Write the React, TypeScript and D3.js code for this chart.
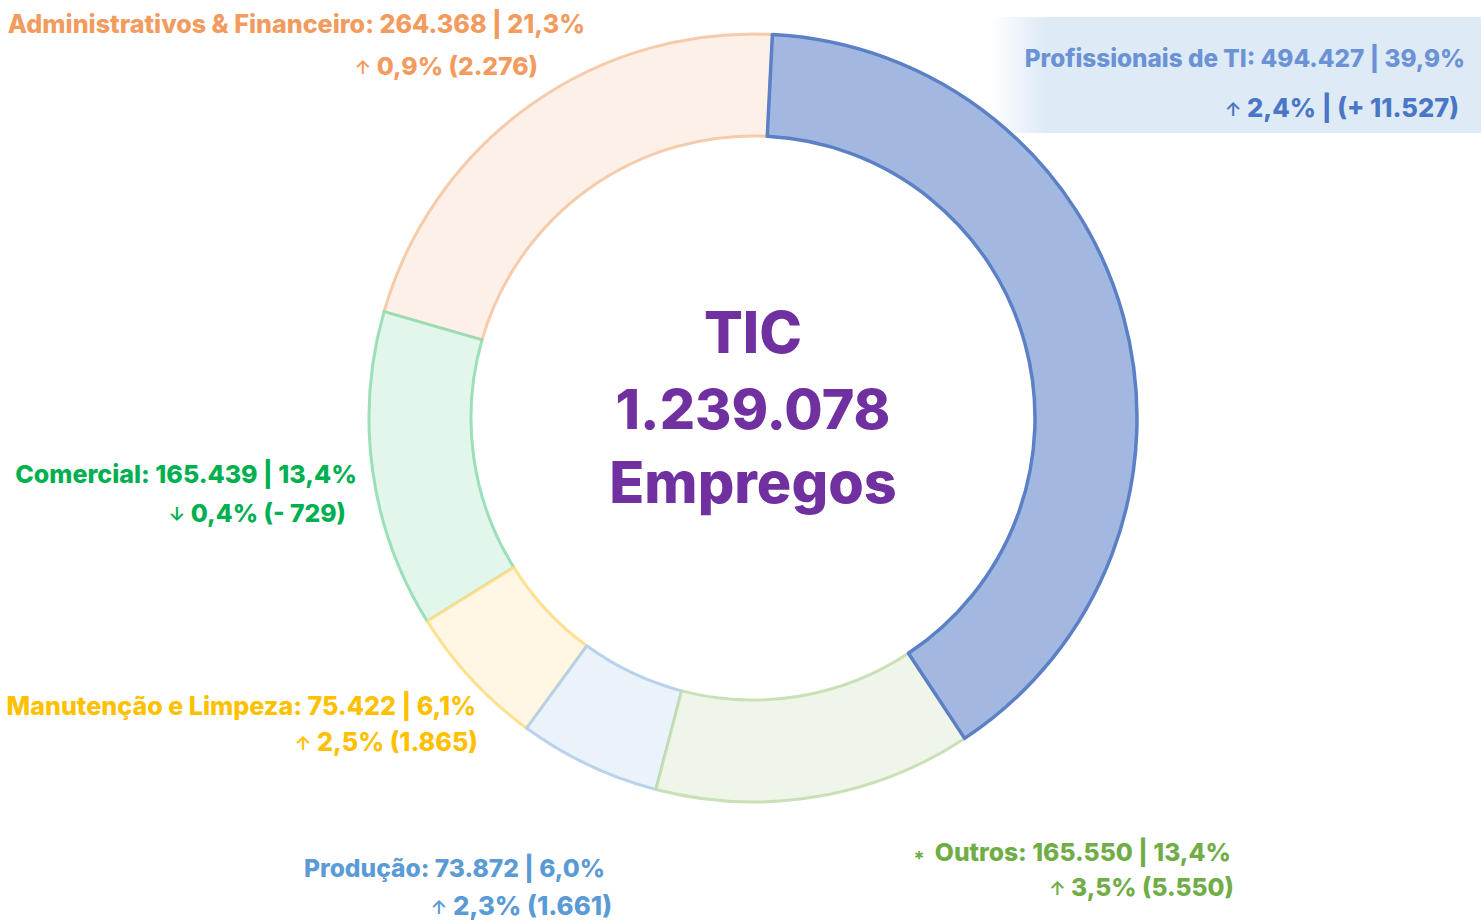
import React from "react";
import * as d3 from "d3";

const categories = [
  "Profissionais de TI",
  "Outros",
  "Produção",
  "Manutenção e Limpeza",
  "Comercial",
  "Administrativos & Financeiro",
];
const values = [494427, 165550, 73872, 75422, 165439, 264368];
const shares = ["39,9%", "13,4%", "6,0%", "6,1%", "13,4%", "21,3%"];
const valueLabels = ["494.427", "165.550", "73.872", "75.422", "165.439", "264.368"];
const changeLabels = ["2,4% | (+ 11.527)", "3,5% (5.550)", "2,3% (1.661)", "2,5% (1.865)", "0,4% (- 729)", "0,9% (2.276)"];
const changeDir = ["up", "up", "up", "up", "down", "up"];
const fills = ["#A2B8E1", "#EFF5E9", "#EBF3FA", "#FFF6E3", "#E3F6EB", "#FCF0E8"];
const strokes = ["#5B80C6", "#BFDCAB", "#AECBEA", "#FFDC82", "#8CDAAE", "#F5C39E"];
const textColors = ["#6A92D4", "#70AD47", "#5B9BD5", "#FFC000", "#00B050", "#F29B5E"];
const text2Colors = ["#4A76C6", "#70AD47", "#5B9BD5", "#FFC000", "#00B050", "#F29B5E"];
const centerLines = ["TIC", "1.239.078", "Empregos"];

// label placement (anchor end x, baselines, font sizes)
const labelPos = [
  { x1: 1465, y1: 67, x2: 1459, y2: 117, f1: 24.3, f2: 25.5 },
  { x1: 1231, y1: 861, x2: 1234, y2: 896, f1: 24.7, f2: 24.6 },
  { x1: 605, y1: 877, x2: 612, y2: 915, f1: 24.6, f2: 25.8 },
  { x1: 476, y1: 715, x2: 478, y2: 751, f1: 25.1, f2: 25.2 },
  { x1: 357, y1: 483, x2: 346, y2: 522, f1: 25, f2: 24.7 },
  { x1: 585, y1: 33, x2: 538, y2: 75, f1: 25.1, f2: 24.7 },
];

const W = 1481;
const H = 922;
const cx = 753;
const cy = 418;
const rOuter = 384;
const rInner = 282;
const offset = (2.9 * Math.PI) / 180;

export default function App() {
  const pie = d3
    .pie<number>()
    .sort(null)
    .value((d) => d)
    .startAngle(offset)
    .endAngle(offset + 2 * Math.PI);
  const arcs = pie(values);
  const arc = d3.arc<d3.PieArcDatum<number>>().innerRadius(rInner).outerRadius(rOuter);
  const order = [5, 4, 3, 2, 1, 0];
  const font = "Inter, 'Noto Sans', sans-serif";

  return (
    <svg
      width={W}
      height={H}
      style={{ position: "absolute", left: 0, top: 0, background: "#fff" }}
      fontFamily={font}
    >
      <defs>
        <linearGradient id="tiBg" gradientUnits="userSpaceOnUse" x1={990} x2={1045} y1={0} y2={0}>
          <stop offset="0" stopColor="#DEEAF6" stopOpacity={0} />
          <stop offset="1" stopColor="#DEEAF6" stopOpacity={1} />
        </linearGradient>
      </defs>
      <rect x={990} y={17} width={W - 990} height={116} fill="url(#tiBg)" />
      <g transform={`translate(${cx},${cy})`}>
        {order.map((i) => (
          <path
            key={categories[i]}
            d={arc(arcs[i]) || ""}
            fill={fills[i]}
            stroke={strokes[i]}
            strokeWidth={i === 0 ? 3.5 : 3}
            strokeOpacity={i === 0 ? 1 : 0.85}
            strokeLinejoin="round"
          />
        ))}
      </g>
      {categories.map((c, i) => {
        const p = labelPos[i];
        return (
          <g key={c} fontWeight={800}>
            <text x={p.x1} y={p.y1} textAnchor="end" fontSize={p.f1} fill={textColors[i]}>
              {`${c}: ${valueLabels[i]} | ${shares[i]}`}
            </text>
            <text x={p.x2} y={p.y2} textAnchor="end" fontSize={p.f2} fill={text2Colors[i]}>
              <tspan fontSize={19} fontWeight={600} dy={-1}>
                {changeDir[i] === "up" ? "↑" : "↓"}
              </tspan>
              <tspan dy={1}>{" " + changeLabels[i]}</tspan>
            </text>
          </g>
        );
      })}
      <text x={919} y={866} textAnchor="middle" fontSize={20} fontWeight={700} fill={textColors[1]}>
        *
      </text>
      <g fill="#7030A0" fontWeight={800} textAnchor="middle">
        <text x={cx} y={353} fontSize={57.5}>
          {centerLines[0]}
        </text>
        <text x={cx} y={429} fontSize={55.5}>
          {centerLines[1]}
        </text>
        <text x={cx} y={503} fontSize={57.5}>
          {centerLines[2]}
        </text>
      </g>
    </svg>
  );
}
